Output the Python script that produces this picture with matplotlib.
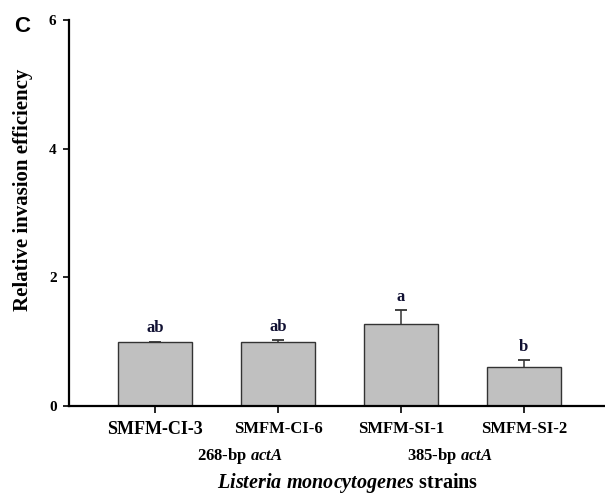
import matplotlib
matplotlib.use("Agg")
import matplotlib.pyplot as plt
import matplotlib.transforms as mtransforms

strains = ["SMFM-CI-3", "SMFM-CI-6", "SMFM-SI-1", "SMFM-SI-2"]
values = [1.0, 1.0, 1.27, 0.60]
errors = [0.0, 0.02, 0.22, 0.11]
letters = ["ab", "ab", "a", "b"]
yticks = [0, 2, 4, 6]

plt.rcParams['font.family'] = 'Liberation Serif'
plt.rcParams['mathtext.fontset'] = 'custom'
plt.rcParams['mathtext.rm'] = 'Liberation Serif:bold'
plt.rcParams['mathtext.it'] = 'Liberation Serif:italic:bold'
plt.rcParams['mathtext.bf'] = 'Liberation Serif:bold'

fig = plt.figure(figsize=(6.05, 4.95), dpi=100)
ax = fig.add_axes([69/605, 1-406/495, 1-69/605, (406-20)/495])

x = list(range(len(strains)))
ax.bar(x, values, width=0.6, color='#c0c0c0', edgecolor='#333333', linewidth=1.0, zorder=2)
eb = ax.errorbar(x, values, yerr=[[0]*len(errors), errors], fmt='none', ecolor='#333333',
                 elinewidth=1.1, capsize=4, capthick=1.3, zorder=3)
# hide the lower caps (only upper error shown)
eb[1][0].set_visible(False)

for xi, v, e, lab in zip(x, values, errors, letters):
    ax.annotate(lab, (xi, v + e), xytext=(0, 4), textcoords='offset points',
                ha='center', va='bottom', fontsize=12, fontweight='bold', color='#111133')

ax.set_xlim(-0.70, 3.66)
ax.set_ylim(0, 6)
ax.set_yticks(yticks)
ax.set_yticklabels([str(t) for t in yticks], fontsize=11, fontweight='bold')
ax.set_xticks(x)
ax.set_xticklabels(strains, fontsize=12, fontweight='bold')
ax.get_xticklabels()[0].set_fontsize(13)

for s in ['top', 'right']:
    ax.spines[s].set_visible(False)
for s in ['left', 'bottom']:
    ax.spines[s].set_linewidth(1.6)
ax.tick_params(axis='y', direction='out', length=4, width=1.2, pad=5)
ax.tick_params(axis='x', direction='out', length=5, width=1.2, pad=6)

ax.set_ylabel("Relative invasion efficiency", fontsize=15, fontweight='bold')
ax.yaxis.set_label_coords(-0.067, 0.56)

trans = mtransforms.blended_transform_factory(ax.transData, ax.transAxes)
ax.text(0.69, (406-456)/386, r"268-bp $\mathit{actA}$", transform=trans, ha='center', va='center',
        fontsize=12, fontweight='bold')
ax.text(2.40, (406-456)/386, r"385-bp $\mathit{actA}$", transform=trans, ha='center', va='center',
        fontsize=12, fontweight='bold')
fig.text(348/605, 1-483/495, r"$\mathit{Listeria\ monocytogenes}$ strains", ha='center', va='center',
         fontsize=14.5, fontweight='bold')

fig.text(14/605, 1-26/495, "C", ha='left', va='center', fontsize=16, fontweight='bold',
         family='Liberation Sans')

fig.savefig("out.png", dpi=100)
